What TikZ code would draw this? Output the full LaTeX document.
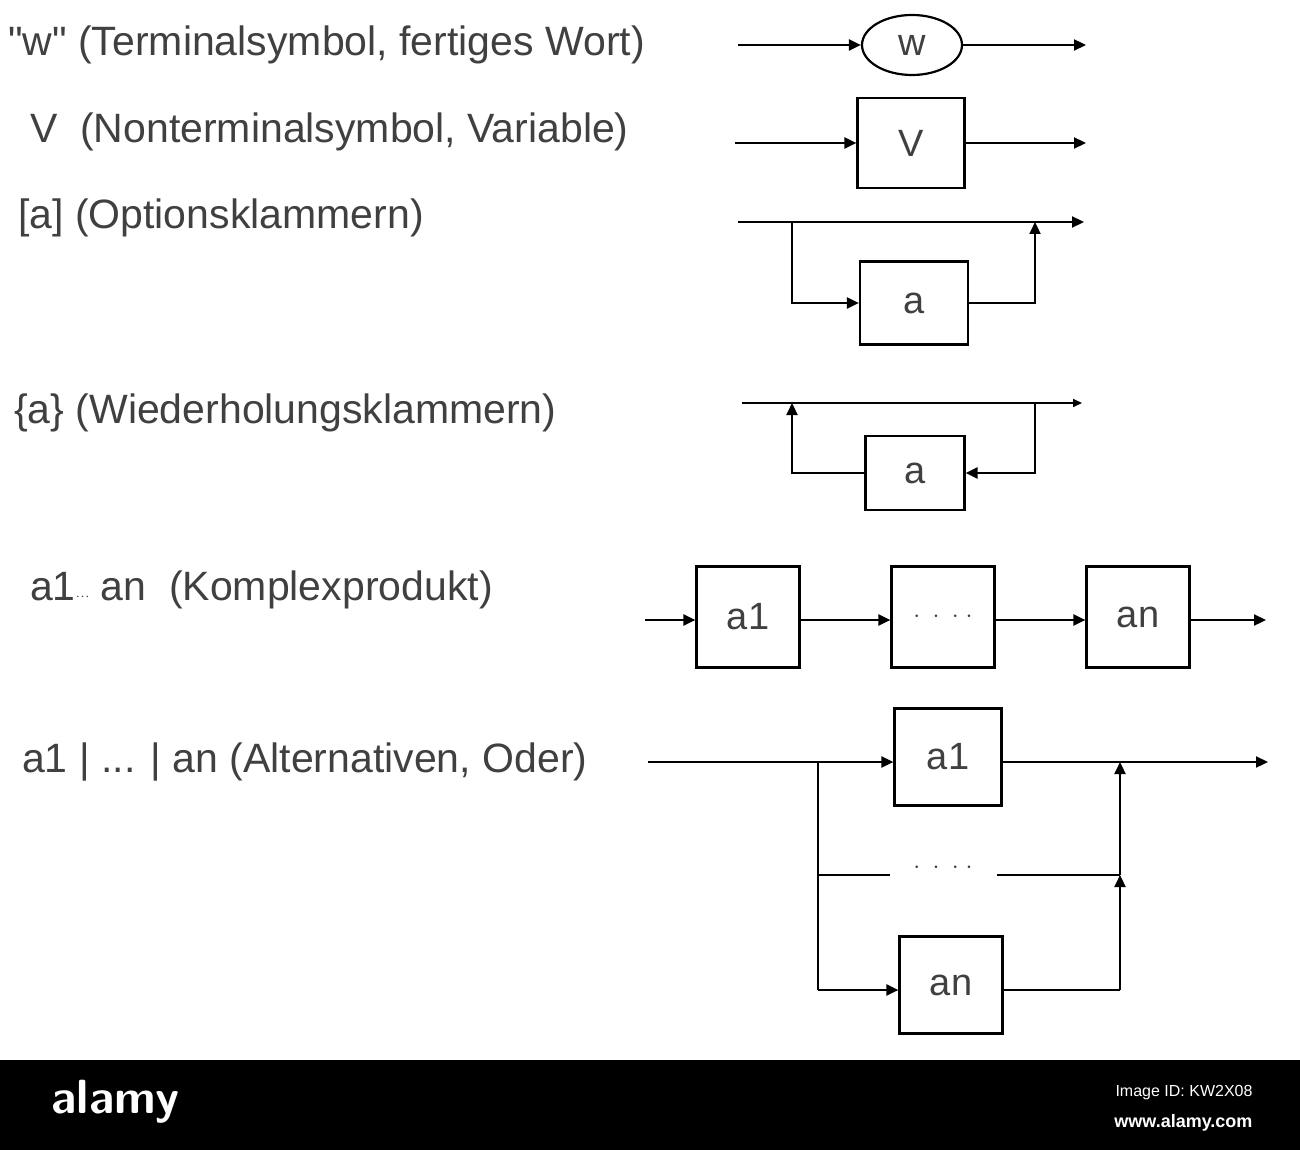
\documentclass[tikz,border=0pt]{standalone}
\usepackage{fontspec}
\setmainfont{Liberation Sans}
\newfontfamily\plainf{Liberation Sans}
\usetikzlibrary{arrows.meta,shapes.geometric}
\begin{document}
\begin{tikzpicture}[x=1pt,y=-1pt,
  ln/.style={line width=2.2pt,draw=black},
  ar/.style={ln,-{Triangle[length=12pt,width=11pt]}},
  bx/.style={draw=black,line width=2.2pt,minimum width=#1,inner sep=0pt},
  lbl/.style={anchor=west,text=black!75,font=\fontsize{41}{44}\selectfont,inner sep=0pt},
  bt/.style={text=black!75,font=\fontsize{38}{40}\selectfont}]
\useasboundingbox (0,0) rectangle (1300,1150);
\fill[white] (0,0) rectangle (1300,1060);
% labels
\node[lbl] (t1) at (8,45) {{\plainf\symbol{34}}w{\plainf\symbol{34}} (Terminalsymbol, fertiges Wort)};
\node[lbl] (t2) at (30,132) {V\ \ (Nonterminalsymbol, Variable)};
\node[lbl] (t3) at (18,218) {[a] (Optionsklammern)};
\node[lbl] (t4) at (14,413) {\{a\} (Wiederholungsklammern)};
\node[lbl] (t5) at (30,590) {a1{\Large$\cdot\!\cdot\!\cdot$} an\ \ (Komplexprodukt)};
\node[lbl] (t6) at (22,762) {a1 | ... | an (Alternativen, Oder)};
% row1
\node[ellipse,draw,line width=2.2pt,minimum width=100pt,minimum height=60pt,bt] (w) at (912,45) {w};
\coordinate (w0) at (738,45); \coordinate (w1) at (1086,45);
\draw[ar] (w0) -- (w); \draw[ar] (w) -- (w1);
% row2
\node[bx=107pt,minimum height=90pt,bt] (v) at (911,143) {V};
\coordinate (v0) at (735,143); \coordinate (v1) at (1086,143);
\draw[ar] (v0) -- (v); \draw[ar] (v) -- (v1);
% row3
\node[bx=108pt,minimum height=83pt,bt] (oa) at (914,303) {a};
\coordinate (o0) at (738,222); \coordinate (o1) at (1084,222);
\coordinate (ob) at (792,222); \coordinate (oj) at (1035,222);
\draw[ar] (o0) -- (o1);
\draw[ar] (ob) |- (oa.west);
\draw[ar] (oa.east) -| (oj);
% row4
\node[bx=99pt,minimum height=74pt,bt] (ra) at (915,473) {a};
\coordinate (r0) at (742,403); \coordinate (r1) at (1082,403);
\coordinate (rb) at (792,403); \coordinate (rj) at (1035,403);
\draw[ln,-{Triangle[length=9pt,width=8pt]},line width=1.6pt] (r0) -- (r1);
\draw[ar] (rj) |- (ra.east);
\draw[ar] (ra.west) -| (rb);
% row5
\node[bx=103pt,minimum height=101pt,bt] (k1) at (748,617) {a1};
\node[bx=103pt,minimum height=101pt,bt] (k2) at (943,617) {$\cdot\;\cdot\;\cdot\;\cdot$};
\node[bx=103pt,minimum height=101pt,bt] (k3) at (1138,617) {an};
\coordinate (k0) at (645,620); \coordinate (k4) at (1266,620);
\draw[ar] (k0) -- (k0 -| k1.west);
\draw[ar] (k1.east |- k0) -- (k2.west |- k0);
\draw[ar] (k2.east |- k0) -- (k3.west |- k0);
\draw[ar] (k3.east |- k0) -- (k4);
% row6
\node[bx=107pt,minimum height=97pt,bt] (a1) at (948,757) {a1};
\node[bx=103pt,minimum height=97pt,bt] (an) at (951,985) {an};
\coordinate (a0) at (648,762); \coordinate (a9) at (1268,762);
\coordinate (ab) at (818,762); \coordinate (aj) at (1120,762);
\coordinate (mb) at (818,875); \coordinate (mj) at (1120,875);
\coordinate (bb) at (818,990); \coordinate (bj) at (1120,990);
\draw[ar] (a0) -- (a0 -| a1.west);
\draw[ar] (a1.east |- a0) -- (a9);
\draw[ln] (ab) -- (bb);
\draw[ar] (bb) -- (bb -| an.west);
\draw[ln] (bb -| an.east) -- (bj);
\draw[ar] (bj) -- (mj);
\draw[ar] (mj) -- (aj);
\draw[ln] (mb) -- (890,875);
\draw[ln] (997,875) -- (mj);
\node[text=black!75,font=\fontsize{28}{28}\selectfont] (dots) at (943,868) {$\cdot\;\cdot\;\cdot\;\cdot$};
% watermark bar
\fill[black] (0,1060) rectangle (1300,1150);
\node[text=white,font=\sffamily\bfseries\fontsize{48}{48}\selectfont,anchor=west] (al) at (48,1102) {alamy};
\node[text=white,font=\fontsize{16}{16}\selectfont,anchor=east] (id) at (1256,1093) {Image ID: KW2X08};
\node[text=white,font=\bfseries\fontsize{18}{18}\selectfont,anchor=east] (www) at (1256,1123) {www.alamy.com};
\end{tikzpicture}
\end{document}
